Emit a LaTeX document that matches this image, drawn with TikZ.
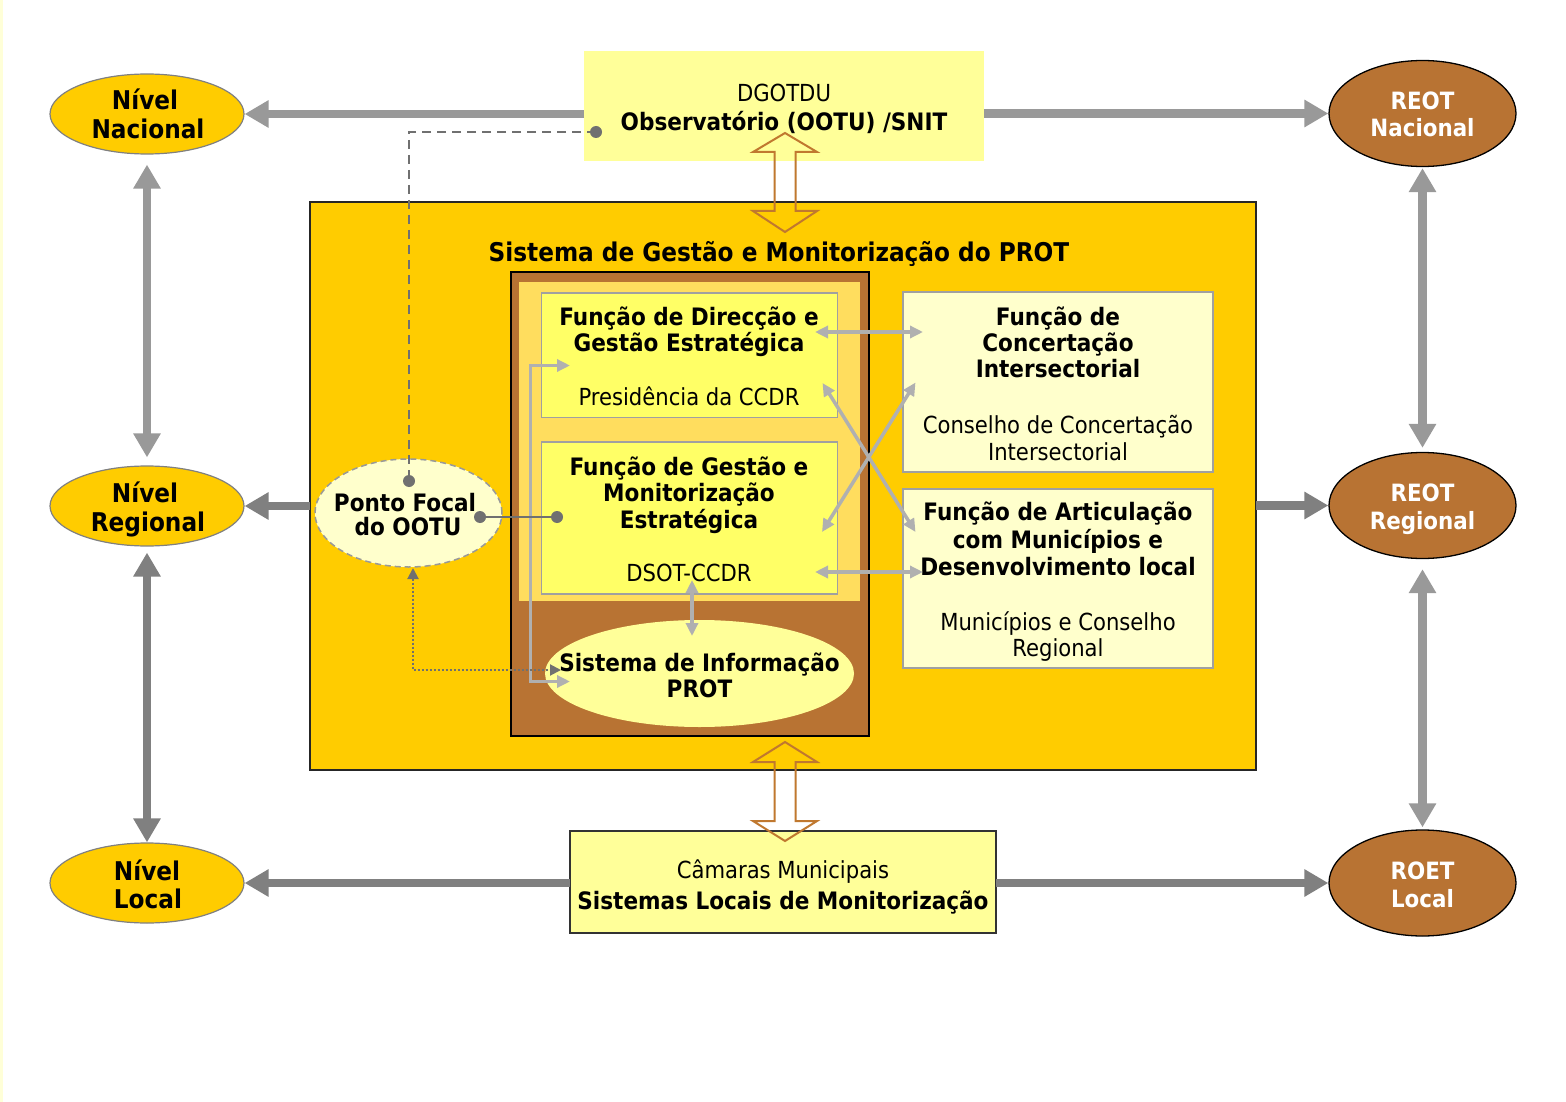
\documentclass[tikz,border=0pt]{standalone}
\usepackage{fontspec}
\setmainfont{DejaVu Sans Condensed}
\usetikzlibrary{arrows.meta,shapes.geometric}
\definecolor{gold}{HTML}{FFCC00}
\definecolor{brownfill}{HTML}{B87333}
\definecolor{paleyel}{HTML}{FFFF99}
\definecolor{brightyel}{HTML}{FFFF66}
\definecolor{cream}{HTML}{FFFFCC}
\definecolor{innerorange}{HTML}{FFDD5E}
\definecolor{grayA}{HTML}{999999}
\definecolor{grayB}{HTML}{808080}
\definecolor{conncol}{HTML}{B0B0B0}
\definecolor{darkconn}{HTML}{707070}
\definecolor{hollowcol}{HTML}{C0782F}
\definecolor{edgeyel}{HTML}{FFFFD8}
\definecolor{boxgray}{HTML}{A0A0A0}
\begin{document}
\begin{tikzpicture}[x=1pt,y=-1pt,
  txt/.style={anchor=base, inner sep=0pt, outer sep=0pt},
  bfa/.style={txt, font=\fontsize{24}{28}\selectfont\bfseries},
  rga/.style={txt, font=\fontsize{23.5}{28}\selectfont},
  ttl/.style={txt, font=\fontsize{25.8}{30}\selectfont\bfseries},
  lvtxt/.style={txt, font=\fontsize{25.8}{30}\selectfont\bfseries},
  retxt/.style={txt, font=\fontsize{23.8}{28}\selectfont\bfseries, text=white},
  lvl/.style={ellipse, fill=gold, draw=grayB, line width=1.2pt, minimum width=194pt, minimum height=80pt, inner sep=0pt},
  reot/.style={ellipse, fill=brownfill, draw=black, line width=1.3pt, minimum width=187pt, minimum height=106pt, inner sep=0pt},
  boxn/.style={rectangle, inner sep=0pt, outer sep=0pt},
  bigA/.style={draw=grayA, line width=8.5pt, -{Triangle[width=26pt,length=24pt]}},
  bigB/.style={draw=grayB, line width=8.5pt, -{Triangle[width=26pt,length=24pt]}},
  bigAA/.style={draw=grayA, line width=8.5pt, {Triangle[width=26pt,length=24pt]}-{Triangle[width=26pt,length=24pt]}},
  bigBB/.style={draw=grayB, line width=8.5pt, {Triangle[width=26pt,length=24pt]}-{Triangle[width=26pt,length=24pt]}},
  conn/.style={draw=conncol, line width=3.5pt, {Triangle[width=12pt,length=13pt]}-{Triangle[width=12pt,length=13pt]}},
  dotln/.style={draw=darkconn, line width=2pt, dash pattern=on 2pt off 2pt, {Triangle[width=11pt,length=11pt]}-{Triangle[width=11pt,length=11pt]}},
  dashln/.style={draw=darkconn, line width=2pt, dash pattern=on 9pt off 6pt},
  hollowA/.style={draw=hollowcol, line width=2pt, line join=miter}
]
\useasboundingbox (0,0) rectangle (1566,1102);
\fill[white] (0,0) rectangle (1566,1102);
\fill[edgeyel] (0,0) rectangle (3,1102);

% level ellipses
\node[lvl] (nacL) at (147,114) {};
\node[lvl] (regL) at (147,506) {};
\node[lvl] (locL) at (147,883) {};
\node[lvtxt] (tnacL1) at (145,110) {Nível};
\node[lvtxt] (tnacL2) at (148,139) {Nacional};
\node[lvtxt] (tregL1) at (145,502) {Nível};
\node[lvtxt] (tregL2) at (148,531.5) {Regional};
\node[lvtxt] (tlocL1) at (147,880) {Nível};
\node[lvtxt] (tlocL2) at (148,908.5) {Local};

% REOT ellipses
\node[reot] (nacR) at (1422.5,113.5) {};
\node[reot] (regR) at (1422.5,505.5) {};
\node[reot] (locR) at (1422.5,883) {};
\node[retxt] (tnacR1) at (1422.5,109.5) {REOT};
\node[retxt] (tnacR2) at (1422.5,137) {Nacional};
\node[retxt] (tregR1) at (1422.5,501) {REOT};
\node[retxt] (tregR2) at (1422.5,529) {Regional};
\node[retxt] (tlocR1) at (1422.5,879) {ROET};
\node[retxt] (tlocR2) at (1422.5,907) {Local};

% top and bottom boxes
\node[boxn, fill=paleyel, minimum width=400pt, minimum height=110pt] (dgo) at (784,106) {};
\node[rga] (tdgo1) at (784,101.5) {DGOTDU};
\node[bfa] (tdgo2) at (784,131) {Observatório (OOTU) /SNIT};

\node[boxn, fill=paleyel, draw=black!80, line width=1.5pt, minimum width=426pt, minimum height=102pt] (cam) at (783,882) {};
\node[rga] (tcam1) at (783,878.5) {Câmaras Municipais};
\node[bfa] (tcam2) at (783,909.5) {Sistemas Locais de Monitorização};

% big system box
\node[boxn, fill=gold, draw=black!85, line width=1.5pt, minimum width=946pt, minimum height=568pt] (big) at (783,486) {};
\node[ttl] (ttitle) at (779,261.7) {Sistema de Gestão e Monitorização do PROT};

\node[boxn, fill=brownfill, draw=black, line width=1.5pt, minimum width=358pt, minimum height=464pt] (brn) at (690,504) {};
\node[boxn, fill=innerorange, minimum width=341pt, minimum height=319pt] (inn) at (689.5,441.5) {};
\node[boxn, fill=brightyel, draw=boxgray, line width=1.5pt, minimum width=296pt, minimum height=124.5pt] (fdir) at (689.6,355) {};
\node[boxn, fill=brightyel, draw=boxgray, line width=1.5pt, minimum width=296pt, minimum height=152pt] (fges) at (689.6,518) {};
\node[ellipse, fill=paleyel, inner sep=0pt, minimum width=309pt, minimum height=107pt] (sip) at (699.5,673.5) {};

\node[boxn, fill=cream, draw=boxgray, line width=2pt, minimum width=310pt, minimum height=179.5pt] (fcon) at (1058,381.8) {};
\node[boxn, fill=cream, draw=boxgray, line width=2pt, minimum width=310pt, minimum height=179pt] (fart) at (1058,578.5) {};

\node[ellipse, fill=cream, draw=grayA, line width=1.5pt, dash pattern=on 6pt off 4pt, inner sep=0pt, minimum width=187pt, minimum height=108pt] (pf) at (408.5,513) {};

% texts in inner boxes
\node[bfa] (tdir1) at (689,325.5) {Função de Direcção e};
\node[bfa] (tdir2) at (689,351.5) {Gestão Estratégica};
\node[rga] (tdir3) at (689,405) {Presidência da CCDR};
\node[bfa] (tges1) at (689,475) {Função de Gestão e};
\node[bfa] (tges2) at (689,501) {Monitorização};
\node[bfa] (tges3) at (689,528) {Estratégica};
\node[rga] (tges4) at (689,581.5) {DSOT-CCDR};
\node[bfa] (tsip1) at (699.5,671) {Sistema de Informação};
\node[bfa] (tsip2) at (699.5,697.5) {PROT};

\node[bfa] (tcon1) at (1058,325) {Função de};
\node[bfa] (tcon2) at (1058,351) {Concertação};
\node[bfa] (tcon3) at (1058,377.5) {Intersectorial};
\node[rga] (tcon4) at (1058,433.5) {Conselho de Concertação};
\node[rga] (tcon5) at (1058,460) {Intersectorial};
\node[bfa] (tart1) at (1058,520.5) {Função de Articulação};
\node[bfa] (tart2) at (1058,548) {com Municípios e};
\node[bfa] (tart3) at (1058,575) {Desenvolvimento local};
\node[rga] (tart4) at (1058,630) {Municípios e Conselho};
\node[rga] (tart5) at (1058,656.5) {Regional};

\node[bfa] (tpf1) at (405,511) {Ponto Focal};
\node[bfa] (tpf2) at (408,535) {do OOTU};

% big gray arrows
\draw[bigA] (dgo.west |- nacL.east) -- (nacL.east);
\draw[bigA] (dgo.east |- nacR.west) -- (nacR.west);
\draw[bigB] (big.west |- regL.east) -- (regL.east);
\draw[bigB] (big.east |- regR.west) -- (regR.west);
\draw[bigB] (cam.west |- locL.east) -- (locL.east);
\draw[bigB] (cam.east |- locR.west) -- (locR.west);
\draw[bigAA, shorten <=10pt, shorten >=8pt] (nacL.south) -- (regL.north);
\draw[bigBB, shorten <=6pt, shorten >=0pt] (regL.south) -- (locL.north);
\draw[bigAA, shorten <=1pt, shorten >=4pt] (nacR.south) -- (regR.north);
\draw[bigAA, shorten <=10pt, shorten >=2pt] (regR.south) -- (locR.north);

% inner connectors
\coordinate (c1a) at (815,332);
\coordinate (c1b) at (923,332);
\coordinate (c2a) at (822.5,383);
\coordinate (c2b) at (915.5,532);
\coordinate (c3a) at (822,532);
\coordinate (c3b) at (915.5,382.5);
\coordinate (c4a) at (815,572);
\coordinate (c4b) at (923,572);
\coordinate (c5a) at (692,580);
\coordinate (c5b) at (692,636);
\coordinate (c6a) at (570,365.5);
\coordinate (k1) at (530.7,365.5);
\coordinate (k2) at (530.7,681.5);
\coordinate (c6b) at (570,681.5);
\draw[conn] (c1a) -- (c1b);
\draw[conn] (c2a) -- (c2b);
\draw[conn] (c3a) -- (c3b);
\draw[conn] (c4a) -- (c4b);
\draw[conn] (c5a) -- (c5b);
\draw[conn] (c6a) -- (k1) -- (k2) -- (c6b);

% dotted link Ponto Focal - Sistema de Informação
\coordinate (pfB) at (413,568);
\coordinate (sipL) at (561,670);
\draw[dotln] (pfB) |- (sipL);

% dashed link DGOTDU - Ponto Focal
\coordinate (dgoDot) at (596,132);
\coordinate (pfTop) at (409,481);
\draw[dashln] (dgoDot) -| (pfTop);
\coordinate (pfR) at (480,517);
\coordinate (gesDot) at (557,517);
\draw[draw=darkconn, line width=2.2pt] (pfR) -- (gesDot);
\fill[darkconn] (dgoDot) circle (6pt);
\fill[darkconn] (pfTop) circle (6pt);
\fill[darkconn] (pfR) circle (6pt);
\fill[darkconn] (gesDot) circle (6pt);

% hollow double arrows
\draw[hollowA] (785,133) -- (817,152) -- (795.5,152) -- (795.5,211) -- (817,211) -- (785,232) -- (753,211) -- (774.5,211) -- (774.5,152) -- (753,152) -- cycle;
\draw[hollowA] (785,742) -- (817,762) -- (795.5,762) -- (795.5,821) -- (817,821) -- (785,841) -- (753,821) -- (774.5,821) -- (774.5,762) -- (753,762) -- cycle;
\end{tikzpicture}
\end{document}
